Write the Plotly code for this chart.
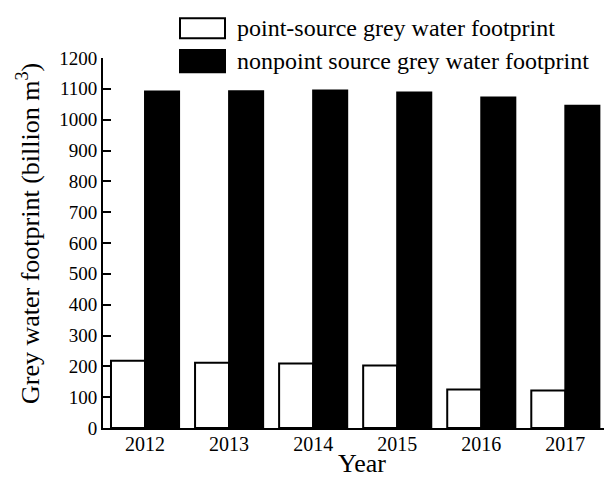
import plotly.graph_objects as go

years = ["2012", "2013", "2014", "2015", "2016", "2017"]
point_source = [218, 212, 209, 203, 125, 122]
nonpoint_source = [1091, 1092, 1095, 1088, 1072, 1045]
y_ticks = list(range(0, 1201, 100))
series_names = ["point-source grey water footprint", "nonpoint source grey water footprint"]
x_title = "Year"
y_title = "Grey water footprint (billion m<sup>3</sup>)"

W, H = 604, 481
ML, MR, MT, MB = 103, 0, 58, 53
PW, PH = W - ML - MR, H - MT - MB
FONT = "Times New Roman, Liberation Serif, serif"


def px_x(px):
    return (px - ML) / PW


def px_y(py):
    return (H - MB - py) / PH


fig = go.Figure()
fig.add_trace(go.Bar(x=years, y=point_source, name=series_names[0],
                     marker=dict(color="white", line=dict(color="black", width=2))))
fig.add_trace(go.Bar(x=years, y=nonpoint_source, name=series_names[1],
                     marker=dict(color="black", line=dict(color="black", width=2))))

# custom legend (large swatches as in the reference)
legend_rows = [(18.3, 38.3, "white"), (50, 72.3, "black")]
for (y0, y1, col), name in zip(legend_rows, series_names):
    fig.add_shape(type="rect", xref="paper", yref="paper",
                  x0=px_x(180), x1=px_x(225), y0=px_y(y1), y1=px_y(y0),
                  fillcolor=col, line=dict(color="black", width=2))
    fig.add_annotation(xref="paper", yref="paper", x=px_x(235), y=px_y((y0 + y1) / 2),
                       text=name, showarrow=False, xanchor="left", yanchor="middle",
                       font=dict(family=FONT, size=24, color="black"))

# axis titles placed as annotations for exact positioning
fig.add_annotation(xref="paper", yref="paper", x=px_x(362), y=px_y(464),
                   text=x_title, showarrow=False, xanchor="center", yanchor="middle",
                   borderpad=0, font=dict(family=FONT, size=26, color="black"))
fig.add_annotation(xref="paper", yref="paper", x=px_x(28), y=px_y(234),
                   text=y_title, showarrow=False, xanchor="center", yanchor="middle",
                   textangle=-90, font=dict(family=FONT, size=26, color="black"))

fig.update_layout(
    width=W, height=H,
    margin=dict(l=ML, r=MR, t=MT, b=MB, autoexpand=False),
    paper_bgcolor="white", plot_bgcolor="white",
    barmode="group", bargap=0.19, bargroupgap=0,
    showlegend=False,
    font=dict(family=FONT, color="black"),
)
fig.update_xaxes(
    type="category", range=[-0.5, 5.46],
    showline=True, linecolor="black", linewidth=2,
    ticks="", showgrid=False, zeroline=False,
    tickfont=dict(family=FONT, size=20, color="black"),
    ticklabelstandoff=-3,
)
fig.update_yaxes(
    range=[0, 1200], tickvals=y_ticks,
    showline=True, linecolor="black", linewidth=2,
    ticks="inside", ticklen=8, tickwidth=2, tickcolor="black",
    showgrid=False, zeroline=False,
    tickfont=dict(family=FONT, size=19, color="black"),
)

fig.write_html("out.html", config={"displayModeBar": False},
               post_script="document.body.style.margin='0';document.body.style.overflow='hidden';")
